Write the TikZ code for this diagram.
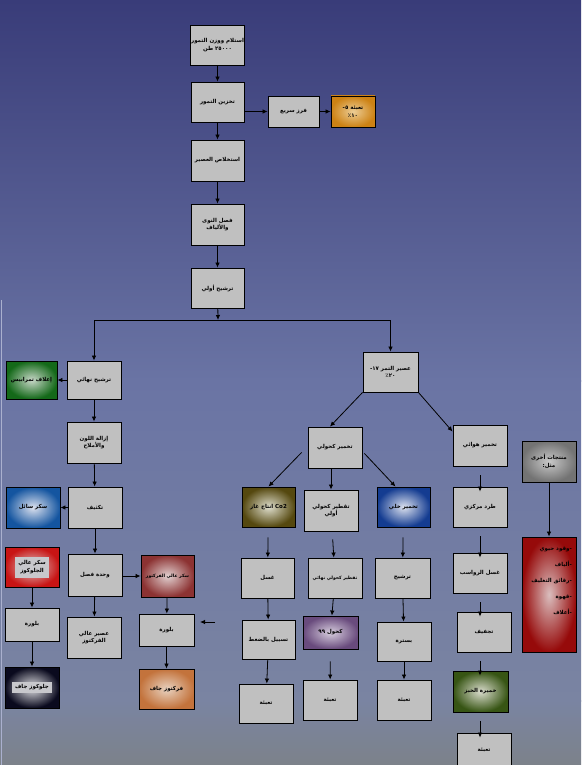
\documentclass[tikz,border=0pt]{standalone}
\usepackage{fontspec}
\newfontfamily\arabicfont[Script=Arabic]{DejaVu Sans}
\TeXXeTstate=1
\usetikzlibrary{arrows.meta,calc}
\definecolor{bgA}{RGB}{57,60,121}
\definecolor{bgB}{RGB}{106,116,164}
\definecolor{bgC}{RGB}{122,132,162}
\definecolor{bgD}{RGB}{124,130,138}
\definecolor{boxgray}{RGB}{192,192,192}
\definecolor{oraO}{RGB}{205,130,20}\definecolor{oraI}{RGB}{236,205,150}
\definecolor{grnO}{RGB}{20,105,25}\definecolor{grnI}{RGB}{200,215,200}
\definecolor{bluO}{RGB}{20,85,160}\definecolor{bluI}{RGB}{220,225,238}
\definecolor{redO}{RGB}{200,20,20}\definecolor{redI}{RGB}{220,200,200}
\definecolor{brnO}{RGB}{140,50,50}\definecolor{brnI}{RGB}{225,208,208}
\definecolor{drkO}{RGB}{10,10,30}\definecolor{drkI}{RGB}{225,225,228}
\definecolor{or2O}{RGB}{195,115,60}\definecolor{or2I}{RGB}{232,210,192}
\definecolor{olvO}{RGB}{85,72,15}\definecolor{olvI}{RGB}{222,222,205}
\definecolor{bl2O}{RGB}{20,60,145}\definecolor{bl2I}{RGB}{220,225,238}
\definecolor{purO}{RGB}{105,75,125}\definecolor{purI}{RGB}{215,205,222}
\definecolor{dkrO}{RGB}{150,10,10}\definecolor{dkrI}{RGB}{218,190,190}
\definecolor{gr2O}{RGB}{55,85,20}\definecolor{gr2I}{RGB}{218,220,205}
\definecolor{gryO}{RGB}{115,115,115}\definecolor{gryI}{RGB}{200,200,200}
\definecolor{txtbg}{RGB}{200,200,204}
\definecolor{edgeline}{RGB}{170,176,206}
\newcommand\tfont{\arabicfont\bfseries\fontsize{5.5}{7.5}\selectfont}
\newcommand\sfont{\arabicfont\bfseries\fontsize{4.5}{5.5}\selectfont}
\newcommand\AR[1]{\beginR#1\endR}
\newcommand\NUM[1]{\beginL#1\endL{}}
\newcommand\bx[7]{\node[#6, minimum width={(#4-#2)*1pt}, minimum height={(#5-#3)*1pt}] (#1) at ({(#2+#4)/2},{(#3+#5)/2}) {#7};}
\tikzset{
  basebox/.style={draw=black, line width=0.9pt, inner sep=1pt, align=center, font=\tfont},
  box/.style={basebox, fill=boxgray},
  cbox/.style 2 args={basebox, inner color=#1, outer color=#2},
  arr/.style={-{Latex[length=5pt,width=4.5pt]}, line width=0.8pt},
  rcol/.style={arr, shorten <=9pt, shorten >=-5pt},
}
\begin{document}
\begin{tikzpicture}[x=1pt,y=-1pt]
\useasboundingbox (0,0) rectangle (581,765);
\shade[top color=bgA, bottom color=bgB] (0,0) rectangle (581,381);
\shade[top color=bgB, bottom color=bgC] (0,380) rectangle (581,701);
\shade[top color=bgC, bottom color=bgD] (0,700) rectangle (581,765);
\draw[edgeline, line width=0.8pt] (1.5,300) -- (1.5,765);

% top column
\bx{n1}{191}{25}{244}{65}{box}{\AR{استلام ووزن التمور}\\\AR{\NUM{٢٥٠٠٠} طن}}
\bx{n2}{191}{82}{244}{122}{box}{\AR{تخزين التمور}}
\bx{n3}{268}{96}{319}{127}{box}{\AR{فرز سريع}}
\bx{n4}{331}{96}{375}{127}{cbox={oraI}{oraO}}{\AR{تعبئة \NUM{٥}-}\\\AR{\NUM{١٠}٪}}
\bx{n5}{191}{140}{244}{181}{box}{\AR{استخلاص العصير}}
\bx{n6}{191}{204}{244}{245}{box}{\AR{فصل النوى}\\\AR{والألياف}}
\bx{n7}{191}{268}{244}{308}{box}{\AR{ترشيح أولي}}

% left branch
\bx{n8}{67}{361}{121}{399}{box}{\AR{ترشيح نهائي}}
\bx{n9}{6}{361}{57}{399}{cbox={grnI}{grnO}}{\AR{إعلاف تمرابيس}}
\bx{n10}{67}{422}{121}{463}{box}{\AR{إزالة اللون}\\\AR{والأملاح}}
\bx{n11}{68}{487}{122}{528}{box}{\AR{تكثيف}}
\bx{n12}{6}{487}{60}{528}{cbox={bluI}{bluO}}{\AR{سكر سائل}}
\bx{n13}{5}{547}{59}{587}{cbox={redI}{redO}}{\colorbox{txtbg}{\begin{tabular}{@{}c@{}}\AR{سكر عالي}\\\AR{الجلوكوز}\end{tabular}}}
\bx{n14}{68}{554}{122}{596}{box}{\AR{وحدة فصل}}
\bx{n15}{141}{555}{194}{597}{cbox={brnI}{brnO}}{\sfont\AR{سكر عالي الفركتوز}}
\bx{n16}{5}{608}{59}{641}{box}{\AR{بلورة}}
\bx{n17}{5}{667}{59}{708}{cbox={drkI}{drkO}}{\colorbox{txtbg}{\AR{جلوكوز جاف}}}
\bx{n18}{67}{617}{121}{658}{box}{\AR{عصير عالي}\\\AR{الفركتوز}}
\bx{n19}{139}{614}{194}{646}{box}{\AR{بلورة}}
\bx{n20}{139}{669}{194}{709}{cbox={or2I}{or2O}}{\AR{فركتوز جاف}}
\coordinate (fa) at (215,622);
\coordinate (fb) at (200,622);

% right branch
\bx{n21}{363}{352}{418}{392}{box}{\AR{عصير التمر \NUM{١٧}-}\\\AR{\NUM{٢٠}٪}}
\bx{n22}{308}{427}{362}{468}{box}{\AR{تخمير كحولي}}
\bx{n23}{453}{425}{507}{466}{box}{\AR{تخمير هوائي}}
\bx{n24}{242}{487}{295}{527}{cbox={olvI}{olvO}}{\AR{\NUM{Co2} انتاج غاز}}
\bx{n25}{304}{490}{358}{531}{box}{\AR{تقطير كحولي}\\\AR{أولي}}
\bx{n26}{377}{487}{430}{527}{cbox={bl2I}{bl2O}}{\AR{تخمير خلي}}
\bx{n27}{241}{558}{294}{598}{box}{\AR{غسل}}
\bx{n28}{242}{620}{295}{659}{box}{\AR{تسييل بالضغط}}
\bx{n29}{239}{684}{293}{723}{box}{\AR{تعبئة}}
\bx{n30}{308}{558}{362}{598}{box}{\sfont\AR{تقطير كحولي نهائي}}
\bx{n31}{303}{616}{358}{649}{cbox={purI}{purO}}{\AR{كحول \NUM{٩٩}}}
\bx{n32}{303}{680}{357}{720}{box}{\AR{تعبئة}}
\bx{n33}{375}{558}{430}{598}{box}{\AR{ترشيح}}
\bx{n34}{377}{622}{431}{661}{box}{\AR{بسترة}}
\bx{n35}{377}{680}{431}{720}{box}{\AR{تعبئة}}
\bx{n36}{522}{441}{576}{482}{cbox={gryI}{gryO}}{\AR{منتجات أخرى}\\\AR{مثل:}}
\bx{n37}{522}{537}{576}{652}{cbox={dkrI}{dkrO}}{}
\node[font=\tfont, align=right, anchor=north east, inner sep=0pt] (n37t) at (572,547)
  {\AR{-وقود حيوي}\\[8.5pt]\AR{-ألياف}\\[8.5pt]\AR{-رقائق التغليف}\\[8.5pt]\AR{-قهوة}\\[8.5pt]\AR{-أعلاف}};
\bx{n38}{453}{487}{507}{527}{box}{\AR{طرد مركزي}}
\bx{n39}{453}{553}{507}{593}{box}{\AR{غسل الرواسب}}
\bx{n40}{457}{612}{511}{652}{box}{\AR{تجفيف}}
\bx{n41}{453}{671}{508}{712}{cbox={gr2I}{gr2O}}{\AR{خميرة الخبز}}
\bx{n42}{457}{733}{511}{767}{box}{\AR{تعبئة}}

% junction
\coordinate (jM) at (218,320);
\coordinate (jL) at (n8.north |- jM);
\coordinate (jR) at (n21.north |- jM);

% connectors
\draw[arr] (n1) -- (n2);
\draw[arr] (n2) -- (n5);
\draw[arr] (n2.east |- n3.west) -- (n3.west);
\draw[arr] (n3) -- (n4);
\draw[arr] (n5) -- (n6);
\draw[arr] (n6) -- (n7);
\draw[arr] (n7) -- (jM);
\draw[line width=0.8pt] (jL) -- (jR);
\draw[arr] (jL) -- (n8);
\draw[arr] (jR) -- (n21);

\draw[arr] (n8) -- (n9);
\draw[arr] (n8) -- (n10);
\draw[arr] (n10) -- (n11);
\draw[arr] (n11) -- (n12);
\draw[arr] (n11) -- (n14);
\draw[arr] (n14.east |- n15.west) -- (n15.west);
\draw[arr] (n14) -- (n18);
\draw[arr] (n13) -- (n16);
\draw[arr] (n16) -- (n17);
\draw[arr] (n15) -- (n19);
\draw[arr] (n19) -- (n20);
\draw[arr] (fa) -- (fb);

\draw[arr] (n21.south west) -- ([xshift=-5pt]n22.north);
\draw[arr] (n21.south east) -- ([yshift=-7pt]n23.north west);
\draw[arr] ($(n22.west)+(-6,5)$) -- (n24.north);
\draw[arr] (n25.north |- n22.south) -- (n25.north);
\draw[arr] ($(n22.east)+(2,6)$) -- ([xshift=-8pt]n26.north);

\draw[arr, shorten <=10pt] (n24) -- (n27);
\draw[arr] (n27) -- (n28);
\draw[arr] (n28) -- (n29);
\draw[arr, shorten <=8pt] (n25) -- (n30);
\draw[arr] (n30) -- (n31);
\draw[arr, shorten <=12pt] (n31) -- (n32);
\draw[arr, shorten <=10pt] (n26) -- (n33);
\draw[arr] (n33) -- (n34);
\draw[arr] (n34) -- (n35);

\draw[rcol] (n23) -- (n38);
\draw[rcol] (n38) -- (n39);
\draw[rcol] (n39.south) -- (n39.south |- n40.north);
\draw[rcol] (n40.south -| n39.south) -- (n39.south |- n41.north);
\draw[rcol] (n41.south -| n39.south) -- (n39.south |- n42.north);
\draw[arr] (n36) -- (n37);
\end{tikzpicture}
\end{document}
